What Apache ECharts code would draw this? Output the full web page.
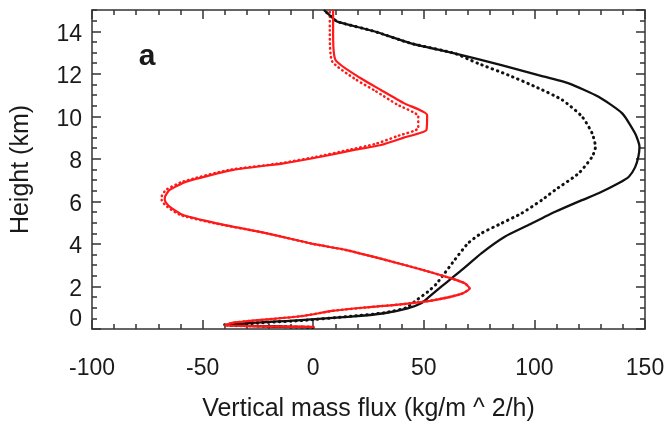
<!DOCTYPE html>
<html>
<head>
<meta charset="utf-8">
<script src="https://cdn.jsdelivr.net/npm/echarts@6/dist/echarts.min.js"></script>
<style>
  html, body { margin: 0; padding: 0; background: #fff; }
  #chart { width: 667px; height: 421px; }
</style>
</head>
<body>
<div id="chart"></div>
<script>
// Vertical mass flux profiles: [flux (kg/m^2/h), height (km)], bottom to top.
var blackSolid = [
  [0, 0.08], [-40, 0.19], [-5.7, 0.42], [17, 0.58], [32, 0.74], [42.7, 0.97],
  [48.8, 1.21], [52.5, 1.52], [57.9, 1.99], [62.5, 2.38], [67.5, 2.8], [76, 3.56],
  [86.6, 4.34], [97.3, 4.89], [109.4, 5.51], [121.5, 6.06], [129, 6.38], [138, 6.85],
  [142.7, 7.16], [145.5, 7.6], [147, 8.1], [147.5, 8.57], [145.5, 9.2], [139.7, 10.14],
  [129, 10.92], [115.5, 11.55], [101.8, 11.94], [85.1, 12.41], [63.9, 12.96],
  [44.2, 13.43], [27.5, 14.0], [10.9, 14.45], [9.1, 14.6], [4.8, 15]
];
var blackDotted = [
  [0, 0.08], [-40, 0.2], [-5, 0.4], [17, 0.6], [32, 0.76], [42, 1.0],
  [45.7, 1.28], [51.8, 1.75], [55.5, 2.1], [59.4, 2.62], [63.9, 3.24], [70, 4.03],
  [76, 4.5], [85.1, 4.97], [94.2, 5.44], [103.3, 6.06], [109.4, 6.54], [120, 7.32],
  [126.1, 8.1], [127.6, 8.57], [126.1, 9.2], [121.6, 9.98], [112.6, 10.77],
  [100.5, 11.39], [88.2, 11.94], [74.5, 12.49], [63.9, 12.96], [44.2, 13.43],
  [27.5, 14.0], [10.9, 14.45], [9.1, 14.6], [4.8, 15]
];
var redSolid = [
  [0, 0.1], [-40, 0.17], [-36.2, 0.3], [-5.7, 0.6], [9.4, 0.86], [24.5, 1.02],
  [39.7, 1.16], [54.8, 1.36], [67, 1.65], [70.7, 1.91], [68.5, 2.15], [62.4, 2.38],
  [48.8, 2.8], [33, 3.24], [15, 3.71], [0, 4.0], [-20.9, 4.5], [-43.6, 4.97],
  [-58.8, 5.36], [-64.9, 5.75], [-67.1, 6.06], [-67, 6.22], [-64.9, 6.54],
  [-57.3, 6.93], [-36.1, 7.48], [-13.4, 7.79], [3.4, 8.1], [18.5, 8.42], [30.6, 8.65],
  [41, 9.0], [51.2, 9.36], [51.5, 10.06], [41.2, 10.61], [30.6, 11.24],
  [21.5, 11.79], [10.1, 12.65], [9.0, 13.9], [9, 15]
];
var redDotted = [
  [0, 0.1], [-40, 0.17], [-36.2, 0.3], [-5.7, 0.6], [9.4, 0.86], [24.5, 1.02],
  [39.7, 1.16], [54.8, 1.36], [67, 1.65], [70.7, 1.91], [68.5, 2.15], [62.4, 2.38],
  [48.8, 2.8], [33, 3.24], [15, 3.71], [0, 4.0], [-20.9, 4.5], [-44.5, 4.97],
  [-60, 5.36], [-66, 5.75], [-68.5, 6.06], [-68.5, 6.22], [-66.5, 6.54], [-59, 6.93],
  [-38, 7.48], [-15, 7.79], [1.5, 8.1], [16, 8.42], [28, 8.7], [38, 9.07],
  [47.5, 9.45], [47.5, 10.0], [38, 10.55], [28, 11.2], [19, 11.75], [8.5, 12.6],
  [7.5, 13.9], [7.5, 15]
];
var xRange = [-100, 150];
var yRange = [0, 15];
var xTitle = 'Vertical mass flux (kg/m ^ 2/h)';
var yTitle = 'Height (km)';
var panelLabel = 'a';

var FONT = '"Liberation Sans", Arial, Helvetica, sans-serif';
var AXIS_COLOR = '#333';
var TEXT_COLOR = '#1a1a1a';

function xAxisDef(pos, withLabels) {
  return {
    type: 'value', position: pos, min: xRange[0], max: xRange[1], interval: 50,
    axisLine: { show: true, onZero: false, lineStyle: { color: AXIS_COLOR, width: 1.5 } },
    axisTick: { show: true, inside: true, length: 9, lineStyle: { color: AXIS_COLOR, width: 1.5 } },
    minorTick: { show: true, splitNumber: 5, length: 5, lineStyle: { color: AXIS_COLOR, width: 1.5 } },
    splitLine: { show: false }, minorSplitLine: { show: false },
    axisLabel: withLabels ? { show: true, fontSize: 23, fontFamily: FONT, color: TEXT_COLOR, margin: 28 } : { show: false },
    name: withLabels ? xTitle : '',
    nameLocation: 'middle', nameGap: 68,
    nameTextStyle: { fontSize: 25, fontFamily: FONT, color: TEXT_COLOR }
  };
}

function yAxisDef(pos, step, tickLen, withLine, withLabels) {
  return {
    type: 'value', position: pos, min: yRange[0], max: yRange[1], interval: step,
    axisLine: { show: withLine, onZero: false, lineStyle: { color: AXIS_COLOR, width: 1.5 } },
    axisTick: { show: true, inside: true, length: tickLen, lineStyle: { color: AXIS_COLOR, width: 1.5 } },
    splitLine: { show: false },
    axisLabel: withLabels ? {
      show: true, fontSize: 23, fontFamily: FONT, color: TEXT_COLOR, margin: 10,
      showMaxLabel: false,
      formatter: function (v) {
        if (v === 0) return '{z|0}';
        if (v > 14) return '';
        return '{n|' + v + '}';
      },
      rich: {
        z: { fontSize: 23, fontFamily: FONT, color: TEXT_COLOR, padding: [0, 0, 18, 0] },
        n: { fontSize: 23, fontFamily: FONT, color: TEXT_COLOR, padding: [6, 0, 0, 0] }
      }
    } : { show: false },
    name: withLabels ? yTitle : '',
    nameLocation: 'middle', nameGap: 58, nameRotate: 90,
    nameTextStyle: { fontSize: 25, fontFamily: FONT, color: TEXT_COLOR }
  };
}

function lineSeries(data, color, dotted, dash, width) {
  return {
    type: 'line', data: data, xAxisIndex: 0, yAxisIndex: 0,
    showSymbol: false, symbol: 'none', smooth: 0.2, animation: false,
    lineStyle: dotted
      ? { color: color, width: width, type: dash, cap: 'round' }
      : { color: color, width: width },
    z: dotted ? 2 : 3
  };
}

var chart = echarts.init(document.getElementById('chart'), null, { renderer: 'canvas' });
chart.setOption({
  backgroundColor: '#fff',
  animation: false,
  grid: { left: 92, right: 22, top: 10, bottom: 92, outerBoundsMode: 'none', containLabel: false },
  xAxis: [xAxisDef('bottom', true), xAxisDef('top', false)],
  yAxis: [
    yAxisDef('left', 2, 9, true, true),
    yAxisDef('left', 0.5, 5, false, false),
    yAxisDef('right', 2, 9, true, false),
    yAxisDef('right', 0.5, 5, false, false)
  ],
  series: [
    lineSeries(blackDotted, '#111', true, [0.5, 5], 3),
    lineSeries(redDotted, '#ff1a1a', true, [0.5, 4], 2.5),
    lineSeries(blackSolid, '#111', false, null, 2.3),
    lineSeries(redSolid, '#ff1a1a', false, null, 2.2)
  ],
  graphic: [{
    type: 'text', x: 147, y: 57,
    style: { text: panelLabel, font: 'bold 30px ' + FONT, fill: TEXT_COLOR, align: 'center', verticalAlign: 'middle' }
  }]
});
</script>
</body>
</html>
